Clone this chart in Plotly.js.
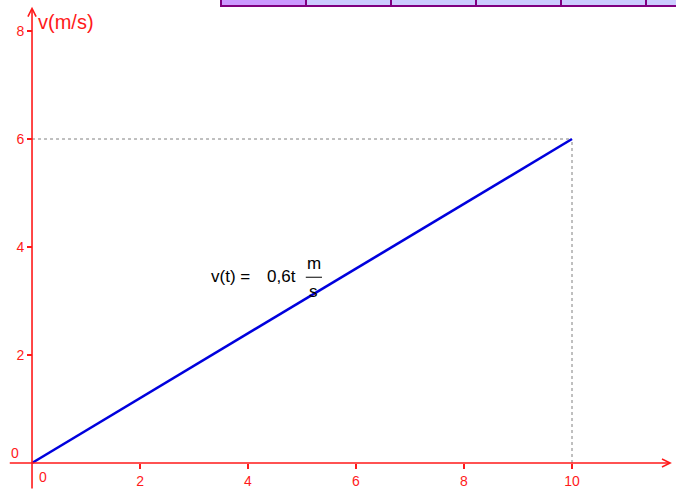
<!DOCTYPE html>
<html>
<head>
<meta charset="utf-8">
<script src="https://cdn.plot.ly/plotly-3.0.1.min.js"></script>
<style>
  html, body { margin: 0; padding: 0; background: #ffffff; }
  #chart { width: 676px; height: 490px; }
</style>
</head>
<body>
<div id="chart"></div>
<script>
// v(t) = 0.6 t : velocity in m/s against time in s
const tValues = [0, 10];
const vValues = [0, 6];

const xTickVals = [2, 4, 6, 8, 10];
const yTickVals = [2, 4, 6, 8];
const formulaLhs = 'v(t) =';
const formulaRhs = '0,6t';
const unitTop = 'm';
const unitBottom = 's';
const vAxisTitle = 'v(m/s)';

// cell borders of the table strip along the top edge (pixels)
const cellEdges = [221, 306, 391, 476, 561, 646, 720];
const cellFills = ['#cc99ff', '#ccccff', '#ccccff', '#ccccff', '#ccccff', '#ccccff'];

const W = 676, H = 490;
const xRange = [-0.593, 11.926];
const yRange = [-0.5, 8.574];
const axisRed = '#ff1a1a';
const font = 'Liberation Sans, Arial, sans-serif';

const xPos = (0 - yRange[0]) / (yRange[1] - yRange[0]);
const yPos = (0 - xRange[0]) / (xRange[1] - xRange[0]);

const tEnd = tValues[tValues.length - 1];
const vEnd = vValues[vValues.length - 1];

const shapes = [
  // guide lines from the end point to both axes
  { type: 'line', xref: 'x', yref: 'y', x0: 0, y0: vEnd, x1: tEnd, y1: vEnd,
    line: { color: '#808080', width: 1, dash: '3px,3px' } },
  { type: 'line', xref: 'x', yref: 'y', x0: tEnd, y0: 0, x1: tEnd, y1: vEnd,
    line: { color: '#808080', width: 1, dash: '3px,3px' } },
  // fraction bar of the unit m/s
  { type: 'line', xref: 'x', yref: 'y', x0: 5.07, y0: 3.44, x1: 5.37, y1: 3.44,
    line: { color: '#000000', width: 1 } }
];

for (let i = 0; i < cellFills.length; i++) {
  shapes.push({
    type: 'rect', xref: 'paper', yref: 'paper',
    x0: cellEdges[i] / W, x1: cellEdges[i + 1] / W,
    y0: 1 - 6 / H, y1: 1 + 4 / H,
    fillcolor: cellFills[i],
    line: { color: '#800080', width: 2 }
  });
}

const annotations = [
  // x axis with arrow
  { x: 11.85, y: 0, ax: -0.44, ay: 0, xref: 'x', yref: 'y', axref: 'x', ayref: 'y',
    text: '', showarrow: true, arrowhead: 5, arrowsize: 1, arrowwidth: 1.6,
    arrowcolor: axisRed, standoff: 0, startstandoff: 0 },
  // y axis with arrow
  { x: 0, y: 8.45, ax: 0, ay: -0.5, xref: 'x', yref: 'y', axref: 'x', ayref: 'y',
    text: '', showarrow: true, arrowhead: 5, arrowsize: 1, arrowwidth: 1.6,
    arrowcolor: axisRed, standoff: 0, startstandoff: 0 },
  // zero labels at the origin
  { x: 0.204, y: -0.25, xref: 'x', yref: 'y', text: '0', showarrow: false,
    font: { family: font, size: 14, color: axisRed } },
  { x: -0.315, y: 0.185, xref: 'x', yref: 'y', text: '0', showarrow: false,
    font: { family: font, size: 14, color: axisRed } },
  // axis title
  { x: 0.08, y: 8.17, xref: 'x', yref: 'y', text: vAxisTitle, showarrow: false,
    xanchor: 'left', font: { family: font, size: 20, color: axisRed } },
  // formula
  { x: 4.07, y: 3.46, xref: 'x', yref: 'y', text: formulaLhs, showarrow: false,
    xanchor: 'right', font: { family: font, size: 17, color: '#000000' } },
  { x: 4.31, y: 3.46, xref: 'x', yref: 'y', text: formulaRhs, showarrow: false,
    xanchor: 'left', font: { family: font, size: 17, color: '#000000' } },
  { x: 5.22, y: 3.69, xref: 'x', yref: 'y', text: unitTop, showarrow: false,
    font: { family: font, size: 17, color: '#000000' } },
  { x: 5.22, y: 3.18, xref: 'x', yref: 'y', text: unitBottom, showarrow: false,
    font: { family: font, size: 17, color: '#000000' } }
];

const trace = {
  x: tValues, y: vValues, type: 'scatter', mode: 'lines',
  line: { color: '#0000dd', width: 2.6 },
  hoverinfo: 'skip', showlegend: false
};

const layout = {
  width: W, height: H,
  margin: { l: 0, r: 0, t: 0, b: 0, pad: 0 },
  paper_bgcolor: '#ffffff', plot_bgcolor: '#ffffff',
  showlegend: false,
  xaxis: {
    range: xRange, anchor: 'free', position: xPos,
    showgrid: false, zeroline: false, showline: false,
    ticks: 'outside', ticklen: 5, tickwidth: 1.5, tickcolor: axisRed,
    tickmode: 'array', tickvals: xTickVals, ticktext: xTickVals.map(String),
    tickfont: { family: font, size: 14, color: axisRed }
  },
  yaxis: {
    range: yRange, anchor: 'free', position: yPos,
    showgrid: false, zeroline: false, showline: false,
    ticks: 'outside', ticklen: 5, tickwidth: 1.5, tickcolor: axisRed,
    tickmode: 'array', tickvals: yTickVals, ticktext: yTickVals.map(String),
    tickfont: { family: font, size: 14, color: axisRed }
  },
  shapes: shapes,
  annotations: annotations
};

Plotly.newPlot('chart', [trace], layout, { displayModeBar: false, staticPlot: true });
</script>
</body>
</html>
